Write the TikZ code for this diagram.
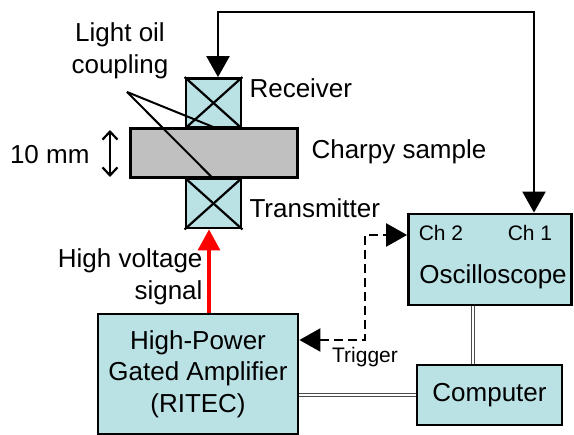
\documentclass[tikz,border=0pt]{standalone}
\usepackage{fontspec}
\setmainfont{Liberation Sans}
\usepackage{xcolor}
\usepackage{tikz}
\usetikzlibrary{arrows.meta}
\definecolor{boxcyan}{HTML}{BAE1E4}
\definecolor{samplegray}{HTML}{C0C0C0}

\tikzset{
  unitbox/.style={draw=black,line width=2.8pt,fill=boxcyan,inner sep=0pt},
  probebox/.style={unitbox,minimum width=55pt,minimum height=49pt},
  bigfont/.style={font=\fontsize{26pt}{31.5pt}\selectfont},
  smallfont/.style={font=\fontsize{21pt}{25pt}\selectfont},
  signal/.style={line width=2.4pt,{Triangle[length=21pt,width=23pt]}-{Triangle[length=21pt,width=23pt]}},
  cable/.style={draw=black!70,line width=1.3pt,double=white,double distance=2.2pt}
}

\begin{document}
\begin{tikzpicture}[x=1pt,y=-1pt]
        \useasboundingbox (0,0) rectangle (574,435);
        % sample and probes
        \node[draw=black,line width=2.8pt,fill=samplegray,minimum width=167pt,minimum height=49pt]
          (sample) at (214,153) {};
        \node[probebox] (receiver) at (213.5,103) {};
        \node[probebox] (transmitter) at (213.5,203.5) {};
        \foreach \p in {receiver,transmitter} {
          \draw[line width=2.2pt] (\p.north west) -- (\p.south east);
          \draw[line width=2.2pt] (\p.south west) -- (\p.north east);
        }
        % instruments
        \node[unitbox,minimum width=163pt,minimum height=91pt] (scope) at (490,259.5) {};
        \node[bigfont] (scopelabel) at (493,277) {Oscilloscope};
        \node[smallfont] (chtwo) at (441,233) {Ch 2};
        \node[smallfont] (chone) at (530,233) {Ch 1};
        \node[unitbox,minimum width=200pt,minimum height=120pt,align=center,bigfont]
          (amp) at (198,374) {High-Power\\Gated Amplifier\\(RITEC)};
        \node[unitbox,minimum width=145pt,minimum height=60pt,bigfont]
          (computer) at (489.5,395) {Computer};
        % labels
        \node[bigfont,anchor=west] (rxlabel) at (246,88) {Receiver};
        \node[bigfont,anchor=west] (samplelabel) at (308,152) {Charpy sample};
        \node[bigfont,anchor=west] (txlabel) at (246,208) {Transmitter};
        \node[bigfont,anchor=east] (thick) at (93,155) {10 mm};
        \node[bigfont,align=center] (oil) at (120,51) {Light oil\\coupling};
        \node[bigfont,align=right,anchor=east] (hv) at (206,277) {High voltage\\signal\hspace{8pt}};
        \node[smallfont] (trig) at (365,357) {Trigger};
        % leader lines
        \coordinate (apex) at (127,92);
        \draw[line width=2pt] (apex) -- (sample.north -| receiver);
        \draw[line width=2pt] (apex) -- (sample.south -| transmitter);
        \coordinate (thtop) at (110,130);
        \coordinate (thbot) at (110,177);
        \draw[line width=2.2pt,{Straight Barb[length=8pt,width=15pt]}-{Straight Barb[length=8pt,width=15pt]}]
          (thtop) -- (thbot);
        % connectors
        \coordinate (rxin) at (218,0);
        \coordinate (chin) at (534,0);
        \draw[signal] (rxin |- receiver.north) -- (218,12) -- (534,12) -- (chin |- scope.north);
        \draw[line width=3.2pt,red,-{Triangle[length=21pt,width=22pt]}]
          (amp.north -| 209,0) -- (transmitter.south -| 209,0);
        \draw[signal,dashed,dash pattern=on 9pt off 5pt]
          (amp.east |- 0,340) -- (365,340) -- (365,235) -- (scope.west |- 0,235);
        \draw[cable] (scope.south -| 473,0) -- (computer.north -| 473,0);
        \draw[cable] (amp.east |- 0,395) -- (computer.west |- 0,395);
      \end{tikzpicture}
\end{document}
